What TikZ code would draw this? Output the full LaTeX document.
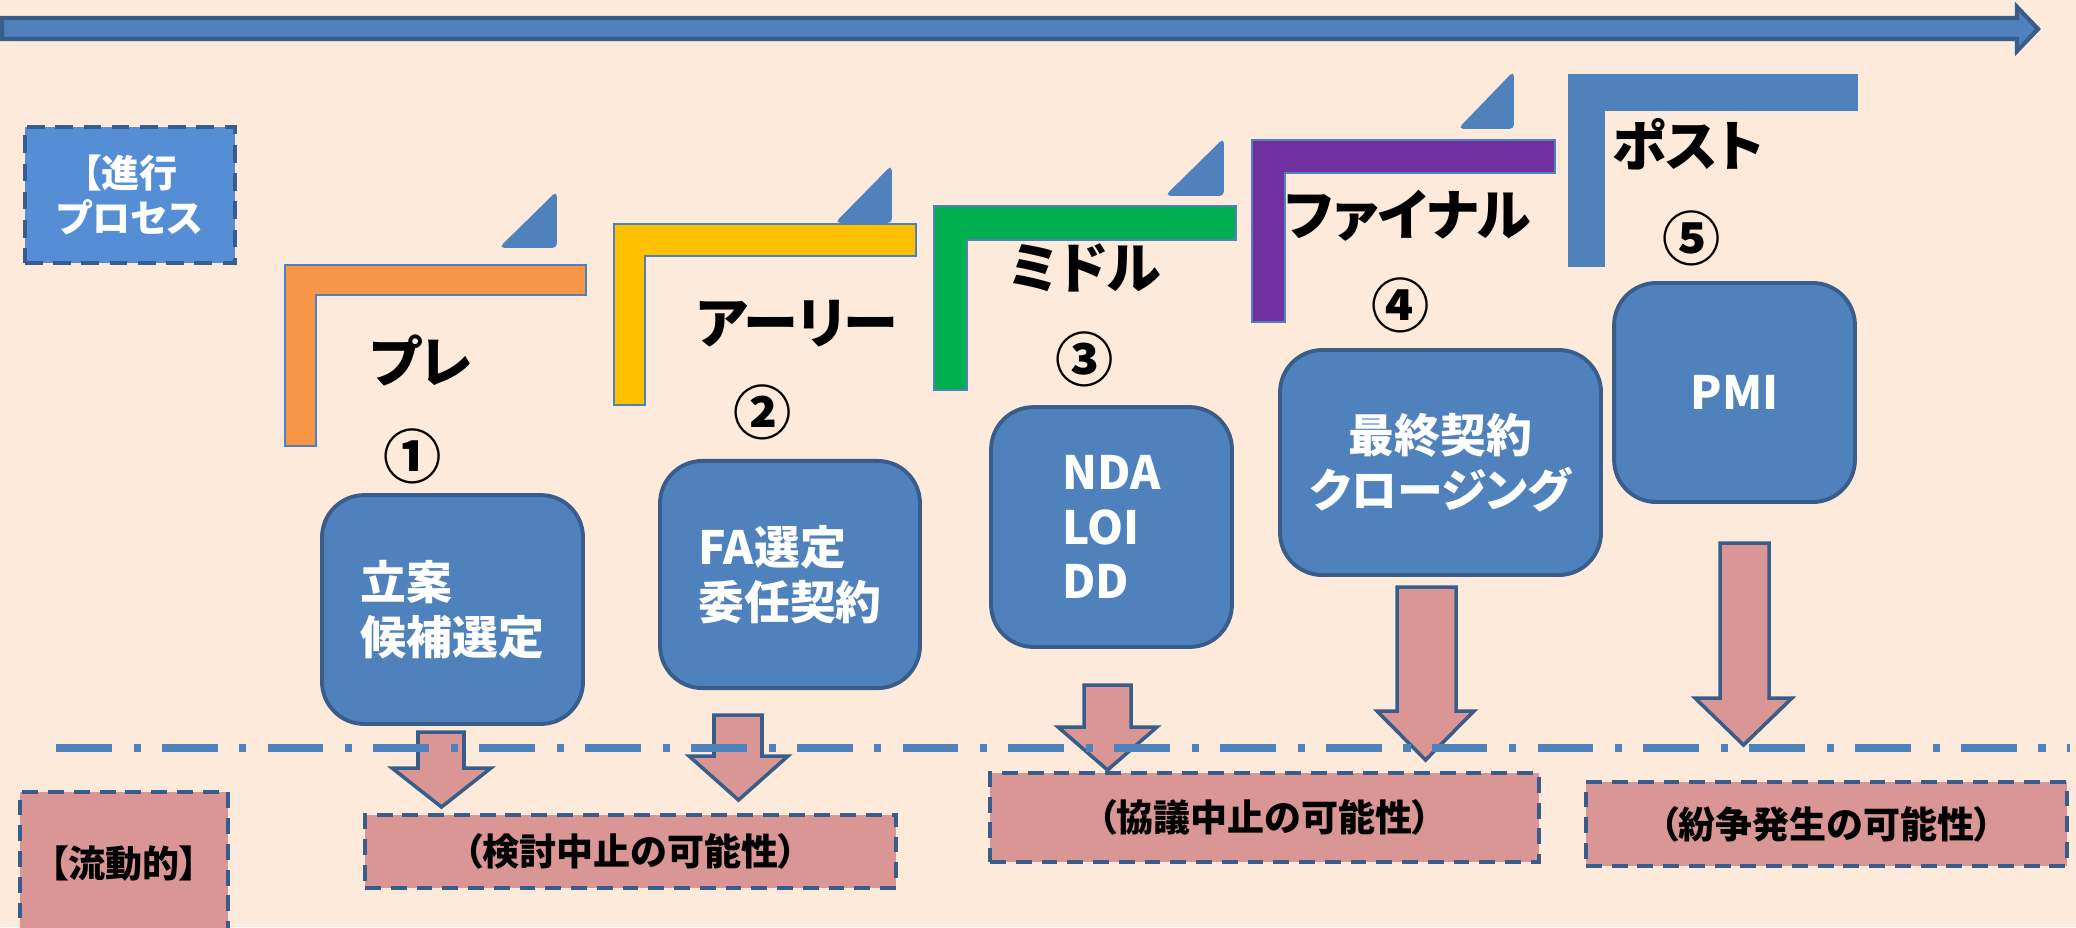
\documentclass[tikz,border=0pt]{standalone}
\usepackage{fontspec}
\setmainfont{Noto Sans CJK JP}[RawFeature={+palt}]
\definecolor{bg}{HTML}{FDEADA}
\definecolor{blu}{HTML}{4F81BD}
\definecolor{dblu}{HTML}{385D8A}
\definecolor{lblu}{HTML}{558ED5}
\definecolor{pnk}{HTML}{D99694}
\definecolor{org}{HTML}{F79646}
\definecolor{ylw}{HTML}{FFC000}
\definecolor{grn}{HTML}{00B050}
\definecolor{prp}{HTML}{7030A0}
\tikzset{
  bluebox/.style={draw=dblu, line width=1.1pt, fill=blu, rounded corners=12pt, text=white,
    font=\bfseries\fontsize{13}{15.5}\selectfont, align=left, inner sep=0pt},
  procbox/.style={draw=dblu, line width=1.1pt, fill=lblu, dash pattern=on 5pt off 3pt, text=white,
    font=\bfseries\fontsize{10.8}{12.5}\selectfont, align=center, inner sep=0pt},
  pinkbox/.style={draw=dblu, line width=1.1pt, fill=pnk, dash pattern=on 4.5pt off 2.8pt,
    font=\bfseries\fontsize{10.5}{12}\selectfont, inner sep=0pt},
  stagelabel/.style={font=\bfseries\fontsize{15.6}{18}\selectfont, inner sep=0pt},
  numlabel/.style={font=\bfseries\fontsize{16.5}{18}\selectfont, inner sep=0pt},
  bracketshape/.style={draw=blu, line width=0.8pt, line join=miter},
  tri/.style={fill=blu, draw=blu, line width=0.5pt, rounded corners=1pt},
  pinkarrow/.style={draw=dblu, line width=1pt, fill=pnk, line join=miter},
  flowline/.style={draw=blu, line width=2pt, dash pattern=on 15.8pt off 6.2pt on 2pt off 6pt},
}
\newcommand\lbracket[7]{\draw[bracketshape, fill=#7] (#1,#2) -- (#3,#2) -- (#3,#4) -- (#5,#4) -- (#5,#6) -- (#1,#6) -- cycle;}
\newcommand\pinkarr[7]{\draw[pinkarrow] (#1,#3) -- (#2,#3) -- (#2,#6) -- (#5,#6) -- ({(#4+#5)/2},#7) -- (#4,#6) -- (#1,#6) -- cycle;}
\begin{document}
\begin{tikzpicture}[x=0.2835pt,y=-0.2835pt]
\useasboundingbox (0,0) rectangle (2076,927);
\clip (0,0) rectangle (2076,927);
\fill[bg] (0,0) rectangle (2076,927);

% timeline arrow
\draw[fill=blu, draw=dblu, line width=1.2pt, line join=miter] (2,18) -- (2017,18) -- (2017,7) -- (2038,29) -- (2017,51) -- (2017,39) -- (2,39) -- cycle;

% stage brackets
\lbracket{285}{265}{586}{295}{316}{446}{org}
\lbracket{614}{224}{916}{256}{645}{405}{ylw}
\lbracket{934}{206}{1236}{240}{967}{390}{grn}
\lbracket{1252}{140}{1555}{173}{1285}{322}{prp}
\lbracket{1569}{75}{1857}{110}{1604}{266}{blu}

% triangles
\draw[tri] (556,193) -- (556,247) -- (501,247) -- cycle;
\draw[tri] (891,167) -- (891,222) -- (837,222) -- cycle;
\draw[tri] (1223,140) -- (1223,195) -- (1167,195) -- cycle;
\draw[tri] (1513,73) -- (1513,128) -- (1460,128) -- cycle;

% process label box
\node[procbox, minimum width=59.5pt, minimum height=38.6pt] (proc) at (130,195) {【進行\\プロセス};

% blue step boxes
\node[bluebox, minimum width=74pt, minimum height=64.9pt] (b1) at (452.5,609.5) {立案\\候補選定};
\node[bluebox, minimum width=73.7pt, minimum height=64.4pt] (b2) at (790,574.5) {FA選定\\委任契約};
\node[bluebox, minimum width=68.3pt, minimum height=68pt] (b3) at (1111.5,527) {NDA\\LOI\\DD};
\node[bluebox, minimum width=91pt, minimum height=63.8pt, align=center] (b4) at (1440.5,462.5) {最終契約\\クロージング};
\node[bluebox, minimum width=68.3pt, minimum height=62.1pt, align=center] (b5) at (1734.5,392.5) {PMI};

% pink block arrows
\pinkarr{418}{464}{732}{392}{491}{768}{807}
\pinkarr{714}{762}{715}{689}{788}{756}{800}
\pinkarr{1084}{1131}{685}{1058}{1157}{727}{770}
\pinkarr{1397}{1456}{587}{1377}{1474}{711}{760}
\pinkarr{1720}{1769}{543}{1695}{1792}{698}{745}

% dash-dot boundary line
\coordinate (fl) at (56,748);
\coordinate (fr) at (2070,748);
\draw[flowline] (fl) -- (fr);

% pink boxes
\node[pinkbox, minimum width=59pt, minimum height=40.5pt] (flow) at (124,863.5) {【流動的】};
\node[pinkbox, minimum width=150.5pt, minimum height=20.7pt] (p1) at (630.5,851.5) {（検討中止の可能性）};
\node[pinkbox, minimum width=155.6pt, minimum height=25.2pt] (p2) at (1264.5,817.5) {（協議中止の可能性）};
\node[pinkbox, minimum width=136.4pt, minimum height=23.8pt] (p3) at (1826.5,824) {（紛争発生の可能性）};

% stage labels
\node[stagelabel] (s1) at (421,360) {プレ};
\node[stagelabel] (s2) at (797,324) {アーリー};
\node[stagelabel] (s3) at (1085,268) {ミドル};
\node[stagelabel] (s4) at (1408,216) {ファイナル};
\node[stagelabel] (s5) at (1688,144) {ポスト};

\node[numlabel] (n1) at (413,456) {①};
\node[numlabel] (n2) at (763,412) {②};
\node[numlabel] (n3) at (1085,359) {③};
\node[numlabel] (n4) at (1401,305) {④};
\node[numlabel] (n5) at (1692,238) {⑤};
\end{tikzpicture}
\end{document}
